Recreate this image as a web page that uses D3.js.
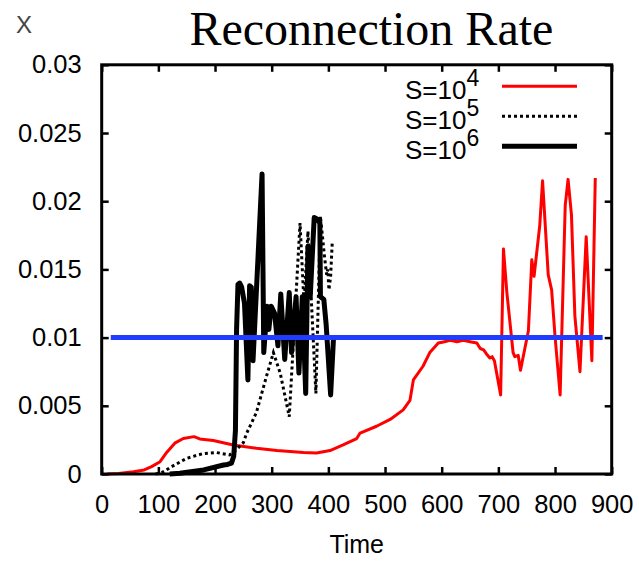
<!DOCTYPE html>
<html>
<head>
<meta charset="utf-8">
<title>Reconnection Rate</title>
<script src="https://cdn.jsdelivr.net/npm/d3@7/dist/d3.min.js"></script>
<style>
  body { margin: 0; background: #fff; }
  .tick text { font-family: "Liberation Sans", Arial, sans-serif; font-size: 25.5px; fill: #000; }
  .axis line { stroke: #000; stroke-width: 2.5; }
  .axis path { display: none; }
</style>
</head>
<body>
<script>
// S=10^4 (red)
var s4Time = [10, 30, 56, 75, 88, 103, 115, 129, 144, 163, 173, 197, 232, 273, 309, 356, 379, 403, 426, 450, 456, 485, 509, 532, 544, 550, 567, 579, 594, 605, 615, 627, 638, 650, 662, 668, 674, 679, 685, 689, 693, 704, 709, 715, 726, 729, 735, 739, 753, 759, 763, 773, 778, 788, 794, 800, 809, 818, 823, 829, 835, 844, 855, 865, 871];
var s4Rate = [0, 0.00003, 0.00017, 0.0003, 0.00054, 0.0009, 0.0016, 0.00226, 0.0026, 0.00274, 0.00257, 0.00245, 0.00213, 0.00189, 0.00172, 0.00157, 0.00154, 0.00172, 0.00213, 0.0026, 0.003, 0.0035, 0.004, 0.0047, 0.0054, 0.0069, 0.0079, 0.0089, 0.0096, 0.0097, 0.0098, 0.0097, 0.0098, 0.0097, 0.0096, 0.0092, 0.0091, 0.0088, 0.0085, 0.0086, 0.0083, 0.0058, 0.0165, 0.0133, 0.0089, 0.0086, 0.0087, 0.0076, 0.0105, 0.0157, 0.0145, 0.0182, 0.0215, 0.0146, 0.0135, 0.0101, 0.0058, 0.0197, 0.0216, 0.019, 0.0116, 0.0075, 0.0174, 0.0083, 0.0217];

// S=10^5 (dotted)
var s5Time = [95, 106, 126, 150, 179, 203, 226, 238, 250, 256, 273, 291, 303, 315, 331, 350, 357, 364, 378, 386, 393, 397, 399, 401, 404, 407];
var s5Rate = [0, 0.0001, 0.0006, 0.00115, 0.0015, 0.00157, 0.0014, 0.0018, 0.0023, 0.003, 0.0045, 0.0072, 0.0089, 0.0074, 0.0042, 0.0184, 0.0125, 0.0178, 0.0059, 0.0189, 0.016, 0.0146, 0.015, 0.0135, 0.0145, 0.0171];

// S=10^6 (solid black)
var s6Time = [120, 138, 180, 215, 222, 229, 233, 236, 238, 240.5, 243.5, 247, 252, 258, 261, 264, 267, 283, 286, 292, 295, 299, 305, 311, 316, 323, 331, 335, 343, 348, 354, 360, 364, 368, 375, 380, 385, 386, 392, 396, 404, 409];
var s6Rate = [0, 0.00005, 0.0003, 0.00066, 0.0007, 0.0008, 0.0013, 0.0032, 0.0106, 0.0139, 0.014, 0.0137, 0.0125, 0.0069, 0.0138, 0.0137, 0.0083, 0.022, 0.0089, 0.0123, 0.0106, 0.0123, 0.0118, 0.0094, 0.0132, 0.0084, 0.0133, 0.0089, 0.013, 0.0074, 0.013, 0.0059, 0.0167, 0.013, 0.0188, 0.0187, 0.0184, 0.013, 0.0128, 0.011, 0.0058, 0.0099];

// reference level
var refTime = [16, 884];
var refRate = [0.01, 0.01];

var xTicks = [0, 100, 200, 300, 400, 500, 600, 700, 800, 900];
var yTicks = [0, 0.005, 0.01, 0.015, 0.02, 0.025, 0.03];
var yTickLabels = ["0", "0.005", "0.01", "0.015", "0.02", "0.025", "0.03"];
var legendExp = ["4", "5", "6"];

var w = 639, h = 564;
var plotL = 101.7, plotR = 611.7, plotT = 64.8, plotB = 474;

var xScale = d3.scaleLinear().domain([0, 900]).range([plotL, plotR]);
var yScale = d3.scaleLinear().domain([0, 0.03]).range([plotB, plotT]);

var svg = d3.select("body").append("svg")
    .attr("width", w).attr("height", h);

function pts(t, v) { return t.map(function(d, i) { return [d, v[i]]; }); }
var line = d3.line().x(function(d) { return xScale(d[0]); }).y(function(d) { return yScale(d[1]); });

// axes (ticks inside, mirrored)
svg.append("g").attr("class", "axis").attr("transform", "translate(0," + plotB + ")")
    .call(d3.axisBottom(xScale).tickValues(xTicks).tickSize(-7).tickPadding(21).tickFormat(d3.format("d")));
svg.append("g").attr("class", "axis").attr("transform", "translate(0," + plotT + ")")
    .call(d3.axisTop(xScale).tickValues(xTicks).tickSize(-7).tickFormat(""));
svg.append("g").attr("class", "axis").attr("transform", "translate(" + plotL + ",0)")
    .call(d3.axisLeft(yScale).tickValues(yTicks).tickSize(-7).tickPadding(20)
        .tickFormat(function(d, i) { return yTickLabels[i]; }));
svg.append("g").attr("class", "axis").attr("transform", "translate(" + plotR + ",0)")
    .call(d3.axisRight(yScale).tickValues(yTicks).tickSize(-7).tickFormat(""));

// series
svg.append("path").datum(pts(s4Time, s4Rate)).attr("d", line)
    .attr("fill", "none").attr("stroke", "#ff0000").attr("stroke-width", 3).attr("stroke-linejoin", "round");
svg.append("path").datum(pts(s5Time, s5Rate)).attr("d", line)
    .attr("fill", "none").attr("stroke", "#000").attr("stroke-width", 3).attr("stroke-dasharray", "3,3");
svg.append("path").datum(pts(s6Time, s6Rate)).attr("d", line)
    .attr("fill", "none").attr("stroke", "#000").attr("stroke-width", 5).attr("stroke-linejoin", "round");
svg.append("path").datum(pts(refTime, refRate)).attr("d", line)
    .attr("fill", "none").attr("stroke", "#1f3cff").attr("stroke-width", 5);

// frame
svg.append("rect").attr("x", plotL).attr("y", plotT)
    .attr("width", plotR - plotL).attr("height", plotB - plotT)
    .attr("fill", "none").attr("stroke", "#000").attr("stroke-width", 3);

// legend
var legendStyles = [
    { stroke: "#ff0000", width: 3, dash: null },
    { stroke: "#000", width: 3, dash: "3,3" },
    { stroke: "#000", width: 5, dash: null }
];
legendExp.forEach(function(e, i) {
    var by = 99.3 + i * 30;
    var t = svg.append("text").attr("x", 405).attr("y", by)
        .attr("font-family", "Liberation Sans, Arial, sans-serif").attr("font-size", 26);
    t.append("tspan").text("S=10");
    t.append("tspan").attr("dy", -13).attr("font-size", 23).text(e);
    svg.append("line").attr("x1", 502).attr("x2", 577).attr("y1", by - 13).attr("y2", by - 13)
        .attr("stroke", legendStyles[i].stroke).attr("stroke-width", legendStyles[i].width)
        .attr("stroke-dasharray", legendStyles[i].dash);
});

// titles
svg.append("text").attr("x", 371.4).attr("y", 45).attr("text-anchor", "middle")
    .attr("font-family", "Liberation Serif, Times New Roman, serif").attr("font-size", 48)
    .text("Reconnection Rate");
svg.append("text").attr("x", 356.7).attr("y", 553.3).attr("text-anchor", "middle")
    .attr("font-family", "Liberation Sans, Arial, sans-serif").attr("font-size", 25)
    .text("Time");
svg.append("text").attr("x", 16).attr("y", 33).attr("fill", "#444")
    .attr("font-family", "Liberation Sans, Arial, sans-serif").attr("font-size", 24)
    .text("X");
</script>
</body>
</html>
